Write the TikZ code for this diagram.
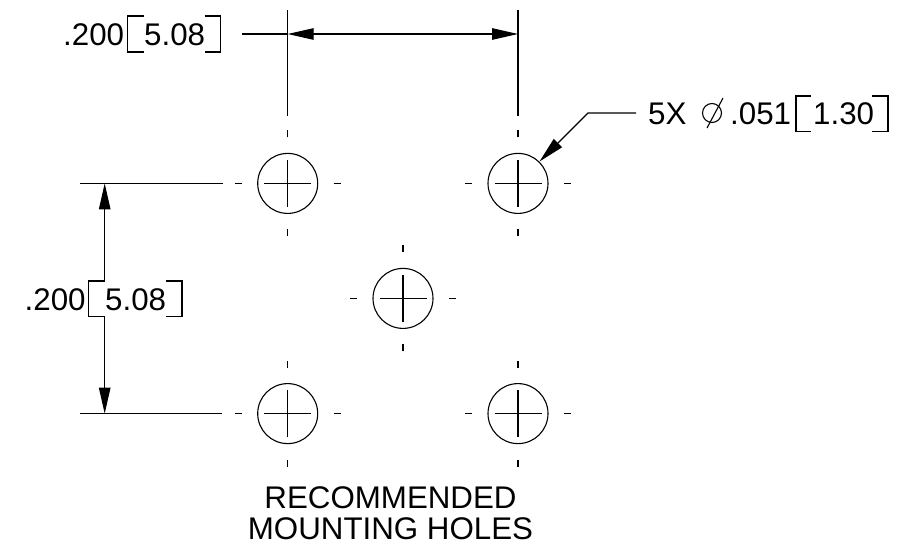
\documentclass[tikz,border=0pt]{standalone}
\usepackage{fontspec}
\setmainfont{Liberation Sans}
\usetikzlibrary{arrows.meta}
\tikzset{
  lin/.style={line width=1.1pt,black,line cap=butt},
  txt/.style={inner sep=0pt,anchor=base west,font=\fontsize{31.3}{31.3}\selectfont},
  ctxt/.style={inner sep=0pt,anchor=base,font=\fontsize{31.3}{31.3}\selectfont},
  tipstyle/.style={-{Triangle[length=26pt,width=11.5pt,fill=black]}},
  holec/.style={circle,draw,line width=1.1pt,minimum size=60pt,inner sep=0pt}
}
\newcommand{\holemark}[2]{%
  \node[holec] (#2) at (#1) {};
  \draw[lin] ([xshift=-23.5pt]#2.center) -- ([xshift=23.5pt]#2.center);
  \draw[lin] ([yshift=-23.5pt]#2.center) -- ([yshift=23.5pt]#2.center);
  \draw[lin] ([xshift=-53pt]#2.center) -- ([xshift=-46pt]#2.center);
  \draw[lin] ([xshift=46pt]#2.center) -- ([xshift=53pt]#2.center);
  \draw[lin] ([yshift=-53pt]#2.center) -- ([yshift=-46pt]#2.center);
  \draw[lin] ([yshift=46pt]#2.center) -- ([yshift=53pt]#2.center);
}
\begin{document}
\begin{tikzpicture}[x=1pt,y=-1pt]
\useasboundingbox (0,0) rectangle (902,544);
% holes
\holemark{287.7,183.4}{h1}
\holemark{518,183.4}{h2}
\holemark{403,298.4}{h3}
\holemark{287.7,413.6}{h4}
\holemark{518,413.6}{h5}
% top dimension
\coordinate (e1a) at (287.7,10); \coordinate (e1b) at (287.7,115.5);
\coordinate (e2a) at (518,10); \coordinate (e2b) at (518,115.5);
\coordinate (d1) at (287.7,34); \coordinate (d2) at (518,34); \coordinate (d0) at (242,34);
\coordinate (dm) at (403,34);
\draw[lin] (e1a) -- (e1b);
\draw[lin] (e2a) -- (e2b);
\draw[lin] (d0) -- (d1);
\draw[lin,tipstyle] (dm) -- (d1);
\draw[lin,tipstyle] (dm) -- (d2);
\node[txt] (t1a) at (63,45) {.200};
\node[txt] (t1b) at (144,45) {5.08};
\draw[lin] (144,16) -- (127.5,16) -- (127.5,52) -- (144,52);
\draw[lin] (204.5,16) -- (220.5,16) -- (220.5,52) -- (204.5,52);
% left dimension
\coordinate (e3a) at (80,183.4); \coordinate (e3b) at (222.5,183.4);
\coordinate (e4a) at (80,413.6); \coordinate (e4b) at (221.5,413.6);
\coordinate (v1) at (104.7,183.4); \coordinate (v2) at (104.7,413.6);
\coordinate (v1e) at (104.7,281); \coordinate (v2e) at (104.7,316);
\draw[lin] (e3a) -- (e3b);
\draw[lin] (e4a) -- (e4b);
\draw[lin,tipstyle] (v1e) -- (v1);
\draw[lin,tipstyle] (v2e) -- (v2);
\node[txt] (t2a) at (24.5,310) {.200};
\node[txt] (t2b) at (105,310) {5.08};
\draw[lin] (104.7,281) -- (88.5,281) -- (88.5,316.5) -- (104.7,316.5);
\draw[lin] (166,281) -- (182,281) -- (182,316.5) -- (166,316.5);
% leader
\coordinate (l0) at (636,113); \coordinate (l1) at (588,113); \coordinate (l2) at (539.5,161.5);
\draw[lin,tipstyle] (l0) -- (l1) -- (l2);
\node[txt] (t3a) at (648,124) {5X};
\draw[lin] (712,113) circle (9.5pt);
\draw[lin] (707,128) -- (723,98);
\node[txt] (t3b) at (730,124) {.051};
\node[txt] (t3c) at (813,124) {1.30};
\draw[lin] (811,96) -- (796,96) -- (796,131.5) -- (811,131.5);
\draw[lin] (872,96) -- (888,96) -- (888,131.5) -- (872,131.5);
% caption
\node[ctxt] (c1) at (390.5,508) {RECOMMENDED};
\node[ctxt] (c2) at (390.5,539) {MOUNTING HOLES};
\end{tikzpicture}
\end{document}
